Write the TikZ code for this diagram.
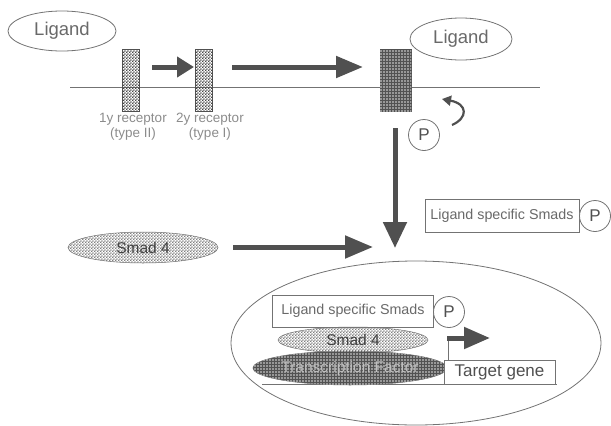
\documentclass[tikz,border=0pt]{standalone}
\usepackage{fontspec}
\setmainfont{Liberation Sans}
\usetikzlibrary{arrows.meta, patterns, shapes.geometric, positioning}
\definecolor{arrowgray}{RGB}{80,80,80}
\definecolor{linegray}{RGB}{115,115,115}
\definecolor{textgray}{RGB}{105,105,105}
\definecolor{labelgray}{RGB}{140,140,140}
\definecolor{patgray}{RGB}{70,70,70}
% fine checker for the receptors and Smad 4
\pgfdeclarepatternformonly{finechecker}{\pgfpointorigin}{\pgfqpoint{2.8pt}{2.8pt}}%
  {\pgfqpoint{2.8pt}{2.8pt}}{%
  \pgfpathrectangle{\pgfpointorigin}{\pgfqpoint{1.4pt}{1.4pt}}%
  \pgfpathrectangle{\pgfqpoint{1.4pt}{1.4pt}}{\pgfqpoint{1.4pt}{1.4pt}}%
  \pgfusepath{fill}}
% white dots on dark ground
\pgfdeclarepatternformonly{finedots}{\pgfqpoint{-1pt}{-1pt}}{\pgfqpoint{1pt}{1pt}}%
  {\pgfqpoint{3pt}{3pt}}{%
  \pgfpathcircle{\pgfpointorigin}{0.8pt}%
  \pgfusepath{fill}}

\begin{document}
\begin{tikzpicture}[x=1pt, y=-1pt,
  ligand/.style={ellipse, draw=linegray, line width=0.8pt, text=textgray,
                 font=\fontsize{18.5}{20}\selectfont, inner sep=0pt},
  receptor/.style={rectangle, draw=arrowgray, line width=0.6pt,
                   pattern=finechecker, pattern color=patgray, inner sep=0pt},
  darkpat/.style={fill=black!68,
                  postaction={pattern=finedots, pattern color=white!88!black}},
  lightpat/.style={ellipse, draw=linegray, line width=0.5pt, inner sep=0pt,
                   pattern=finechecker, pattern color=black!50},
  smadbox/.style={rectangle, draw=linegray, line width=0.8pt, fill=white,
                  text=textgray, inner sep=0pt,
                  font=\fontsize{14.3}{15}\selectfont},
  phos/.style={circle, draw=linegray, line width=0.8pt, fill=white,
               minimum size=31pt, inner sep=0pt, text=arrowgray,
               font=\fontsize{17}{18}\selectfont},
  rlabel/.style={text=labelgray, align=center, inner sep=0pt,
                 font=\fontsize{13.5}{15}\selectfont},
  bigarrow/.style={draw=arrowgray, line width=5pt,
                   -{Triangle[length=27pt, width=21pt]}},
  smallarrow/.style={draw=arrowgray, line width=5pt,
                     -{Triangle[length=17pt, width=20pt]}},
  thinline/.style={draw=linegray, line width=0.8pt}]
\useasboundingbox (0,0) rectangle (611,426);

%% membrane with the receptors
\coordinate (memL) at (70,87);
\coordinate (memR) at (540,87);
\draw[thinline] (memL) -- (memR);
\node[ligand, minimum width=108pt, minimum height=40pt] (ligA) at (62,31) {Ligand};
\node[receptor, minimum width=17pt, minimum height=62pt] (recA) at (130.5,80) {};
\node[receptor, minimum width=17pt, minimum height=62pt] (recB) at (204,80) {};
\node[rectangle, draw=arrowgray, line width=0.6pt, darkpat, inner sep=0pt,
      minimum width=31pt, minimum height=62pt] (cplx) at (395.5,80) {};
\node[ligand, minimum width=102pt, minimum height=42pt] (ligB) at (461,39) {Ligand};
\node[rlabel] (labA) at (133,127) {1y receptor\\(type II)};
\node[rlabel] (labB) at (210,127) {2y receptor\\(type I)};

%% activation arrows
\coordinate (aS) at (152,67);
\coordinate (aE) at (194,67);
\coordinate (bS) at (232,67);
\coordinate (bE) at (363,67);
\draw[smallarrow] (aS) -- (aE);
\draw[bigarrow] (bS) -- (bE);

%% phosphorylation below the complex
\node[phos] (pA) at (424,135) {P};
\coordinate (cvS) at (452,125);
\coordinate (cvE) at (442,99);
\draw[draw=arrowgray, line width=2.2pt, -{Triangle[length=9pt, width=10pt]}]
  (cvS) .. controls (468,118) and (468,104) .. (cvE);
\coordinate (vS) at (395,128);
\coordinate (vE) at (395,248);
\draw[bigarrow, -{Triangle[length=26pt, width=23pt]}] (vS) -- (vE);

%% free smads in the cytoplasm
\node[smadbox, minimum width=154pt, minimum height=33pt] (smadR) at (502,215.5)
  {Ligand specific Smads};
\node[phos] (pB) at (595,216) {P};
\node[lightpat, minimum width=150pt, minimum height=31pt, text=black!75,
      font=\fontsize{15.5}{16}\selectfont] (sfourA) at (143,247.5) {Smad 4};
\coordinate (hS) at (233,247);
\coordinate (hE) at (373,247);
\draw[bigarrow, -{Triangle[length=28pt, width=22pt]}] (hS) -- (hE);

%% nucleus
\node[ellipse, draw=linegray, line width=0.8pt, inner sep=0pt,
      minimum width=370pt, minimum height=164pt] (nucl) at (416,343) {};
\coordinate (dnaL) at (262,384);
\coordinate (dnaR) at (557,384);
\draw[thinline] (dnaL) -- (dnaR);
\node[smadbox, minimum width=161pt, minimum height=32pt] (smadN) at (353,311)
  {Ligand specific Smads};
\node[phos] (pC) at (449,312) {P};
\node[lightpat, minimum width=150pt, minimum height=26pt, text=black!75,
      font=\fontsize{15.5}{16}\selectfont] (sfourB) at (353,340) {Smad 4};
\node[ellipse, draw=linegray, line width=0.5pt, darkpat, inner sep=0pt,
      minimum width=148pt, minimum height=34pt, text=white!75!black,
      font=\fontsize{15.5}{16}\selectfont] (tfac) at (350,368) {Transcription Factor};
\node[smadbox, text=arrowgray, minimum width=111pt, minimum height=24pt,
      font=\fontsize{17}{18}\selectfont] (tgene) at (499.5,372) {Target gene};
\coordinate (prA) at (448,360);
\coordinate (prB) at (448,338);
\coordinate (prC) at (490,338);
\draw[thinline] (prA) -- (prB);
\draw[smallarrow, -{Triangle[length=26pt, width=21pt]}] ([xshift=-1pt]prB) -- (prC);
\end{tikzpicture}
\end{document}
